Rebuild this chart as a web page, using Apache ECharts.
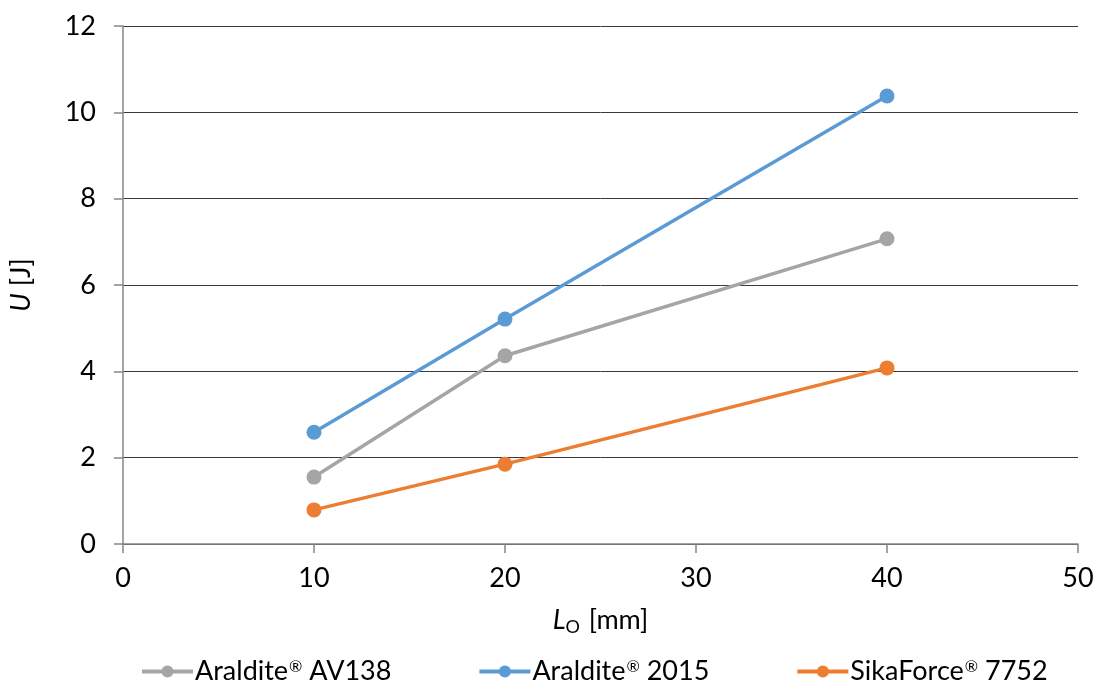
<!DOCTYPE html>
<html>
<head>
<meta charset="utf-8">
<script src="https://cdn.jsdelivr.net/npm/echarts@6/dist/echarts.min.js"></script>
<style>
  html, body { margin: 0; padding: 0; background: #fff; }
  #chart { width: 1101px; height: 687px; }
</style>
</head>
<body>
<div id="chart"></div>
<script>
// Overlap length L_O [mm] vs. absorbed energy U [J]
const overlapLengths = [10, 20, 40];
const seriesNames = ['Araldite® AV138', 'Araldite® 2015', 'SikaForce® 7752'];
const av138 = [1.55, 4.36, 7.07];
const araldite2015 = [2.59, 5.21, 10.38];
const sikaForce = [0.79, 1.85, 4.08];
const seriesColors = ['#A5A5A5', '#5B9BD5', '#ED7D31'];

const font = 'Lato, "Open Sans", sans-serif';
const values = [av138, araldite2015, sikaForce];

const chart = echarts.init(document.getElementById('chart'), null, { renderer: 'canvas' });

// Registered mark drawn as a small superscript
function legendLabel(name) {
  const parts = name.split('®');
  return '{t|' + parts[0] + '}{sup|®}{t|' + parts[1] + '}';
}

chart.setOption({
  animation: false,
  backgroundColor: '#fff',
  textStyle: { fontFamily: font, color: '#000' },
  grid: { left: 123, right: 23, top: 26, bottom: 143, containLabel: false },
  xAxis: {
    type: 'value',
    min: 0, max: 50, interval: 10,
    axisLine: { show: true, onZero: false, lineStyle: { color: '#868686', width: 1.5 } },
    axisTick: { show: true, inside: false, length: 9, lineStyle: { color: '#868686', width: 1.5 } },
    axisLabel: { fontSize: 27, color: '#000', fontFamily: font, margin: 21 },
    splitLine: { show: false },
    name: '{it|L}{sub|O} [mm]',
    nameLocation: 'middle',
    nameGap: 60,
    nameTextStyle: {
      fontSize: 27, color: '#000', fontFamily: font,
      rich: {
        it: { fontSize: 27, fontStyle: 'italic', fontFamily: font, color: '#000' },
        sub: { fontSize: 18, fontFamily: font, color: '#000', padding: [14, 2, 0, 0] }
      }
    }
  },
  yAxis: {
    type: 'value',
    min: 0, max: 12, interval: 2,
    axisLine: { show: true, lineStyle: { color: '#868686', width: 1.5 } },
    axisTick: { show: true, inside: false, length: 9, lineStyle: { color: '#868686', width: 1.5 } },
    axisLabel: { fontSize: 27, color: '#000', fontFamily: font, margin: 27 },
    splitLine: { show: true, lineStyle: { color: '#3a3a3a', width: 1 } },
    name: '{it|U} [J]',
    nameLocation: 'middle',
    nameGap: 88,
    nameTextStyle: {
      fontSize: 27, color: '#000', fontFamily: font,
      rich: {
        it: { fontSize: 27, fontStyle: 'italic', fontFamily: font, color: '#000' }
      }
    }
  },
  legend: {
    top: 653,
    left: 135,
    itemWidth: 51,
    itemHeight: 15,
    itemGap: 86,
    formatter: legendLabel,
    lineStyle: { width: 4 },
    textStyle: {
      fontSize: 27, color: '#000', fontFamily: font, padding: [0, 0, 0, -3],
      rich: {
        t: { fontSize: 27, fontFamily: font, color: '#000' },
        sup: { fontSize: 16, fontFamily: font, color: '#000', padding: [0, 0, 10, 1] }
      }
    },
    data: seriesNames
  },
  series: seriesNames.map((name, i) => ({
    name: name,
    type: 'line',
    data: overlapLengths.map((x, j) => [x, values[i][j]]),
    color: seriesColors[i],
    symbol: 'circle',
    symbolSize: 15,
    lineStyle: { width: 3.5, color: seriesColors[i] },
    itemStyle: { color: seriesColors[i] },
    z: i === 1 ? 3 : 2
  }))
});
</script>
</body>
</html>
